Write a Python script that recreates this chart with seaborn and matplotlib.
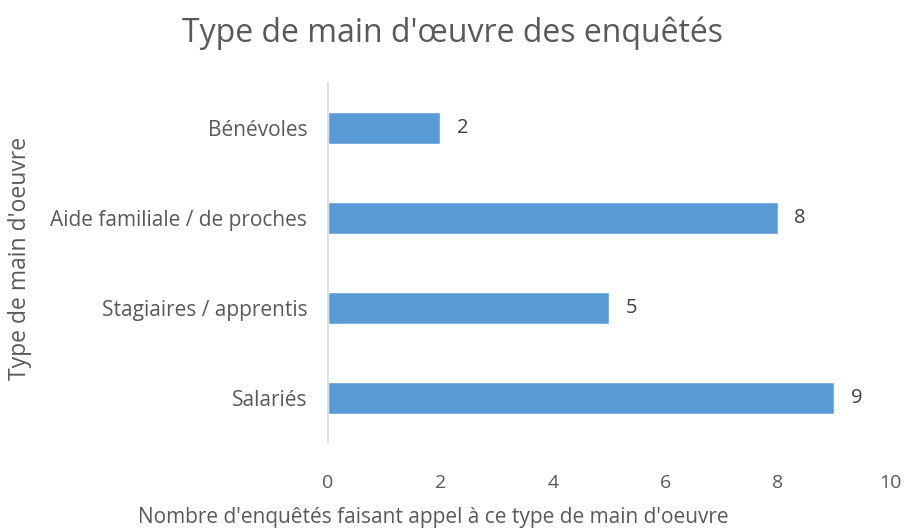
import pandas as pd
import seaborn as sns
import matplotlib.pyplot as plt

# Data
categories = ['Bénévoles', 'Aide familiale / de proches', 'Stagiaires / apprentis', 'Salariés']
counts = [2, 8, 5, 9]

df = pd.DataFrame({'type': categories, 'nombre': counts})

sns.set_style('white')
plt.rcParams['font.family'] = ['Open Sans', 'DejaVu Sans']

W, H = 906, 529
fig = plt.figure(figsize=(W / 100, H / 100), dpi=100)
ax = fig.add_axes([328 / W, 1 - 443 / H, 562 / W, 360 / H])

sns.barplot(data=df, x='nombre', y='type', color='#5B9BD5', width=0.345,
            saturation=1, ax=ax, orient='h')

# Value labels
for i, v in enumerate(counts):
    ax.text(v + 0.3, i, str(v), va='center', ha='left', fontsize=14.5, color='#404040')

ax.set_xlim(0, 10)
ax.set_xticks([0, 2, 4, 6, 8, 10])
ax.tick_params(axis='x', labelsize=14, colors='#595959', length=0, pad=22)
ax.tick_params(axis='y', labelsize=15, colors='#595959', length=0, pad=15)

for s in ['top', 'right', 'bottom']:
    ax.spines[s].set_visible(False)
ax.spines['left'].set_color('#D9D9D9')
ax.spines['left'].set_linewidth(1.2)

ax.set_xlabel('')
ax.set_ylabel('')
fig.text(433 / W, 1 - 518 / H, "Nombre d'enquêtés faisant appel à ce type de main d'oeuvre",
         fontsize=15, color='#595959', ha='center', va='center')
fig.text(20 / W, 1 - 258 / H, "Type de main d'oeuvre", fontsize=16.5, color='#595959',
         ha='center', va='center', rotation=90)
fig.text(453 / W, 1 - 33 / H, "Type de main d'œuvre des enquêtés", fontsize=23,
         color='#595959', ha='center', va='center')

fig.savefig('out.png', dpi=100)
